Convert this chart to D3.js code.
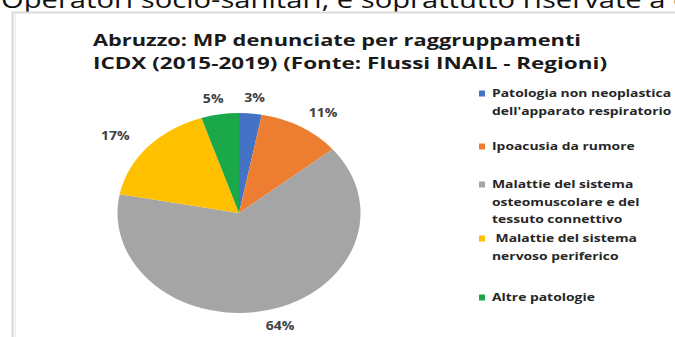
<!DOCTYPE html>
<html>
<head>
<meta charset="utf-8">
<script src="https://cdn.jsdelivr.net/npm/d3@7/dist/d3.min.js"></script>
<style>
  html, body { margin: 0; padding: 0; background: #fff; }
  svg { display: block; }
  text { font-family: "Open Sans", "DejaVu Sans", sans-serif; }
</style>
</head>
<body>
<svg id="chart" width="675" height="337"></svg>
<script>
// Occupational diseases reported in Abruzzo, by ICD-X grouping, 2015-2019
const categories = [
  "Patologia non neoplastica dell'apparato respiratorio",
  "Ipoacusia da rumore",
  "Malattie del sistema osteomuscolare e del tessuto connettivo",
  "Malattie del sistema nervoso periferico",
  "Altre patologie"
];
const shares = [3, 11, 64, 17, 5];
const colors = ["#4472C4", "#ED7D31", "#A5A5A5", "#FFC000", "#1BA84A"];
const legendLines = [
  ["Patologia non neoplastica", "dell'apparato respiratorio"],
  ["Ipoacusia da rumore"],
  ["Malattie del sistema", "osteomuscolare e del", "tessuto connettivo"],
  [" Malattie del sistema", "nervoso periferico"],
  ["Altre patologie"]
];
const titleLines = [
  "Abruzzo: MP denunciate per raggruppamenti",
  "ICDX (2015-2019) (Fonte: Flussi INAIL - Regioni)"
];
const pageText = "Operatori socio-sanitari, e soprattutto riservate a c";

const svg = d3.select("#chart");
const W = 675, H = 337;
const stretch = 1.215; // the whole graphic is drawn slightly widened

// running text of the page above the chart
svg.append("text")
  .attr("x", 1).attr("y", 7.5)
  .attr("font-size", 23)
  .attr("fill", "#111")
  .attr("textLength", 686)
  .attr("lengthAdjust", "spacingAndGlyphs")
  .text(pageText);

// chart frame
svg.append("rect")
  .attr("x", 12.5).attr("y", 12.5)
  .attr("width", W + 20).attr("height", H + 20)
  .attr("fill", "#fff")
  .attr("stroke", "#d9d9d9")
  .attr("stroke-width", 2);
svg.append("line")
  .attr("x1", 15).attr("x2", 15).attr("y1", 14).attr("y2", H)
  .attr("stroke", "#f1f1f1").attr("stroke-width", 2);

// title
const titleBase = [46, 69];
const titleWidth = [488, 514];
titleLines.forEach((t, i) => {
  svg.append("text")
    .attr("x", 93).attr("y", titleBase[i])
    .attr("font-size", 16.5)
    .attr("font-weight", 700)
    .attr("fill", "#1a1a1a")
    .attr("textLength", titleWidth[i])
    .attr("lengthAdjust", "spacingAndGlyphs")
    .text(t);
});

// pie
const cx = 239, cy = 213, R = 100;
const pie = d3.pie().sort(null).value(d => d)(shares);
const arc = d3.arc().innerRadius(0).outerRadius(R);

const g = svg.append("g")
  .attr("transform", `translate(${cx},${cy}) scale(${stretch},1)`);
g.selectAll("path")
  .data(pie)
  .join("path")
  .attr("d", arc)
  .attr("fill", (d, i) => colors[i]);

// percentage labels, placed on an elliptical ring outside the pie
const labelArc = d3.arc().innerRadius(116).outerRadius(116);
const labelStretch = 165 / 116;
const labelPos = d => [cx + labelArc.centroid(d)[0] * labelStretch, cy + labelArc.centroid(d)[1]];
svg.append("g").selectAll("text")
  .data(pie)
  .join("text")
  .attr("transform", d => `translate(${labelPos(d)[0]},${labelPos(d)[1]}) scale(1.22,1)`)
  .attr("dy", "0.36em")
  .attr("text-anchor", "middle")
  .attr("font-size", 11.5)
  .attr("font-weight", 700)
  .attr("fill", "#404040")
  .text(d => d.data + "%");

// legend
const legendX = 479, textX = 492;
const itemBase = [97, 150, 188, 242, 301];
const lineH = 17.7;
const leg = svg.append("g");
legendLines.forEach((lines, i) => {
  leg.append("rect")
    .attr("x", legendX).attr("y", itemBase[i] - 6.5)
    .attr("width", 6).attr("height", 6)
    .attr("fill", colors[i]);
  lines.forEach((ln, j) => {
    leg.append("text")
      .attr("transform", `translate(${textX},${itemBase[i] + j * lineH}) scale(1.24,1)`)
      .attr("font-size", 11.2)
      .attr("font-weight", 700)
      .attr("fill", "#262626")
      .attr("xml:space", "preserve")
      .style("white-space", "pre")
      .text(ln);
  });
});
</script>
</body>
</html>
